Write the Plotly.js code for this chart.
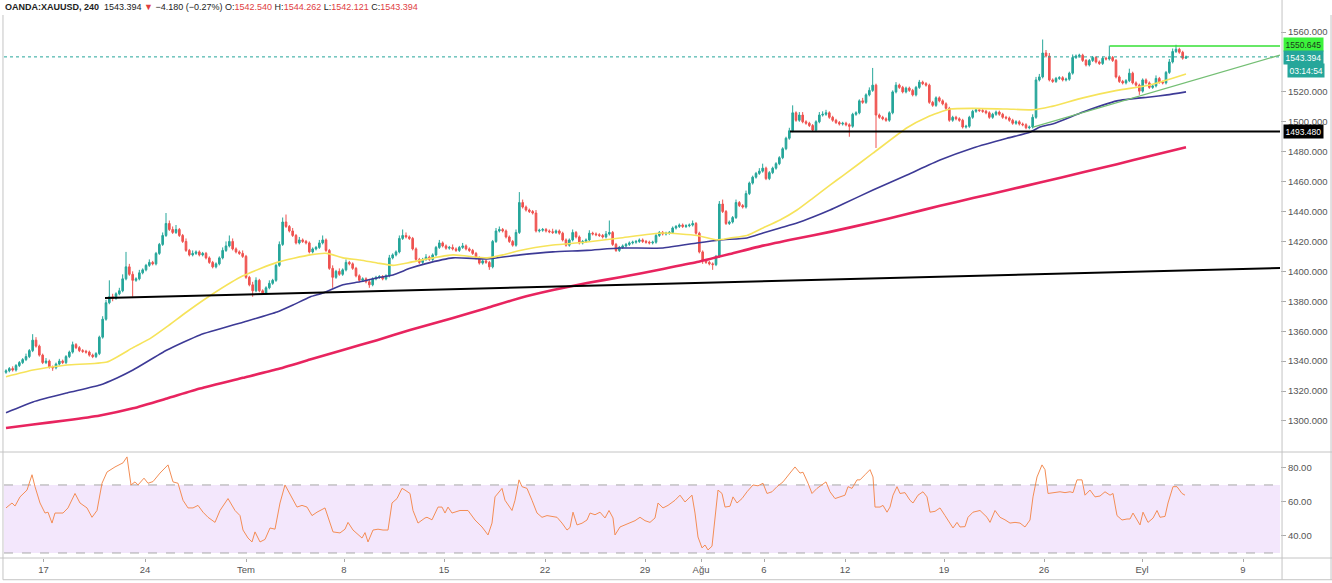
<!DOCTYPE html>
<html>
<head>
<meta charset="utf-8">
<script src="https://cdn.plot.ly/plotly-3.0.1.min.js"></script>
<style>html,body{margin:0;padding:0;background:#fff;}#chart{width:1332px;height:583px;}</style>
</head>
<body>
<div id="chart"></div>
<script>
// 4h candles, index 0..354 (OANDA:XAUUSD, 240)
const closes = [
1333.5,1335,1334,1337,1339,1341,1343,1347,1354,1350,
1344,1339,1340,1336,1335.5,1338,1340,1339,1343,1346,
1351,1349,1347,1346.5,1346,1344,1343,1345,1356,1368,
1379,1383,1382,1385,1387,1395,1403,1398,1394,1395,
1399,1401,1404,1406,1405,1412,1418,1424,1432,1428,
1426,1428,1424,1420,1414,1411,1412,1413,1411,1412,
1409,1406,1403,1405,1409,1414,1417,1420,1415,1413,
1412,1410,1396,1391,1387,1394,1387,1385.5,1389,1392,
1394,1404,1418,1433,1430,1427,1424,1419,1421,1420,
1419,1413,1415,1416,1419,1421,1414,1402,1396,1400,
1398,1401,1406,1405,1402,1397,1394,1395,1393,1391,
1395,1396,1396.5,1395,1397,1409,1411,1413,1422,1424,
1423,1422,1415,1408,1406,1408,1409.5,1408,1411,1416,
1419,1417,1415.5,1416,1415,1414,1416,1417,1415,1414,
1412,1409,1405.5,1407,1406,1403,1420,1427,1428,1427,
1423,1420,1417.5,1426,1446,1443,1441,1440,1439,1427,
1427.5,1428,1427,1426.5,1426,1427,1425.5,1421,1417.5,1421,
1426,1423,1419,1420,1421,1425.5,1425,1424.5,1424,1423,
1425,1426,1418,1414,1416,1417,1418,1419,1419.5,1420,
1421,1420,1419.5,1419,1419.5,1424,1426,1425,1425.5,1426,
1429,1430,1431,1430,1430.5,1431,1432,1425.5,1413,1407,
1406,1405,1404.5,1410,1445,1440,1432,1433,1436,1446,
1444,1443,1452,1459,1463,1465.5,1467,1469,1462,1466,
1469,1472,1476,1482,1489,1494,1506,1501,1504.5,1500,
1499,1497.5,1494.5,1500,1504.5,1505,1506,1503,1501,1499.5,
1498.5,1499,1498,1497,1505,1506,1514,1513,1518,1521,
1524.5,1504.5,1503,1502,1501,1506,1520,1524.5,1523,1520,
1522.5,1521,1518,1523,1526.5,1525.5,1524.5,1513,1511,1516,
1514,1512,1509,1501,1503,1502,1501,1496.5,1497,1503,
1507,1508,1507.5,1507,1506,1503,1505,1506.5,1505,1503,
1502.5,1501,1499,1500,1498.5,1498,1496,1496.5,1503,1528,
1530,1546,1544,1528,1527,1529,1529.5,1528,1528.5,1532.5,
1543,1544,1544.5,1541,1538,1541,1543,1540,1539,1542.5,
1542,1543,1541,1530,1527,1526,1527.5,1532.5,1526,1524.5,
1520.5,1528,1526,1523,1524,1529,1526.5,1526,1533,1540,
1547,1548.5,1546.5,1542.54,1543.394
];
const firstOpen = 1332.5;
// wick lengths above the body / below the body (price units)
const wickUp = [
1,1,1.5,1,1,1,2,1,4,2, 1,1,2,1,1,1,1.5,1,1,1, 2,1,1,1,1,1,1,1,1,2, 2,11,2,1,2,3,10,2,2,1,
2,1,1,2,1,1,1,2,7,2, 2,3,1,1,2,1,2,1,1,1, 1,1,1,1,1,2,3,4,2,1, 1,2,1,1,2,2,1,1,1,2,
1,1,2,3,5,1,2,1,2,1, 1,1,1,1,2,3,1,1,2,1, 2,1,2,1,1,1,1,1,1,2, 1,1,1,1,1,2,1,1,2,4,
2,1,1,1,1,1,2,1,1,1, 2,1,1,1,2,1,1,2,1,1, 1,1,1,1,1,1,1,2,2,1, 1,1,1,2,7,2,1,1,1,2,
1,1,1,1,2,1,1,1,1,1, 2,1,1,1,1,2,1,1,1,1, 2,8,1,1,1,1,1,1,1,1, 1,1,1,1,1,1,1,1,1,1,
1,1,1,1,1,1,2,1,1,1, 1,1,1,1,2,3,1,1,1,2, 1,1,2,1,1,1,2,3,1,1, 1,1,1,1,1,2,5,1,2,2,
1,1,1,1,2,2,2,1,1,1, 1,1,1,1,1,1,1,2,1,2, 11.5,1,1,1,1,1,1,2,1,1, 1,1,1,1,1.5,1,1,1,1,1,
1,1,1,1,1,1,1,1,1,1, 1,1,1,1,1,1,1,1,1,1, 1,1,1,1,1,1,1,1,2,2, 2,9,2,2,1,1,1,1,1,1,
2,1,1,1,1,1,1,1,1,1, 1,8,1,1,1,1,1,3,1,1, 1,1,1,1,1,2,1,1,1,2, 2,3,1,1,0.868
];
const wickDn = [
1,1,1,1,1,1,1,1,1,1, 1,1,1,1,2,1,1,1,1,1, 1,1,1,1,1,1,1,1,1,1, 1,1,2,1,1,1,1,1,11,1,
1,1,1,1,1,1,1,1,1,1, 1,1,1,1,1,1,1,1,1,1, 1,1,1,1,1,1,1,1,1,1, 1,1,1,1,4,1,1,1,1,1,
1,1,1,1,1,1,1,1,1,1, 1,1,1,1,1,1,1,1,7,1, 1,1,1,1,1,1,1,1,1,2, 1,1,1,1,1,1,1,1,1,1,
1,1,1,1,1,1,1,1,1,1, 1,1,1,1,1,1,1,1,1,1, 1,1,1,1,1,2,1,1,1,1, 1,1,1,1,1,1,1,1,1,1,
1,1,1,1,1,1,1,1,1,1, 1,1,1,1,1,1,1,1,1,1, 1,1,1,1,1,1,1,1,1,1, 1,1,1,1,1,1,1,1,1,1,
1,1,1,1,1,1,1,1,1,2, 1,1,3.5,1,1,1,1,1,1,1, 1,1,1,1,1,1,1,1,1,1, 1,1,1,1,1,1,1,1,1,1,
1,1,1,1,1,1,1,1,1,1, 1,1,1,7,1,1,1,1,1,1, 1,22,1,1,1,1,1,1,1,1, 1,1,1,1,1,1,1,1,1,1,
1,1,1,1,1,1,1,1,1,1, 1,1,1,1,1,1,1,1,1,1, 1,1,1,1,1,1,1,1,1,1, 1,1,1,1,1,1,1,1,1,1,
1,1,1,1,1,1,1,1,1,1, 1,1,1,1,1,1,1,1,1,1, 2.5,1,1,1,1,1,1,1,1,1, 1,1,1,1,0.419
];

// moving averages read at candle indices
const ma50Idx = [0,8.1,18.3,30.3,38.1,43.2,48.3,54.3,62.1,71.1,81.3,91.2,96.3,101.1,106.2,111.3,116.1,121.2,125.7,134.1,144.3,149.1,154.2,164.1,174.3,184.2,197.1,207.3,213.3,217.2,222.3,227.1,232.2,237.3,242.1,247.2,251.1,260.1,270.3,276.3,283.2,290.1,300.3,308.1,313.2,323.1,333.3,343.2,354];
const ma50Val = [1329.5,1334,1337.4,1339.4,1349,1355,1363,1373,1385,1397,1406,1411,1412,1409,1407.6,1405.6,1404,1406,1408,1411,1409,1411,1414,1417.6,1419.6,1422.3,1425.6,1424,1421,1422.3,1424,1429,1434.3,1441,1449,1457.7,1464,1479,1496,1503,1508.5,1509,1508.5,1508,1510,1516,1521,1524.6,1532];
const ma100Idx = [0,8.1,18.3,28.2,33.3,38.1,48.3,58.2,71.1,81.3,86.1,91.2,95.1,101.1,106.2,111.3,116.1,121.2,125.7,134.1,144.3,154.2,164.1,174.3,184.2,197.1,207.3,214.2,222.3,227.1,232.2,237.3,242.1,247.2,251.1,260.1,270.3,280.2,290.1,300.3,307.2,310.2,314.7,323.1,333.3,343.2,348.3,354];
const ma100Val = [1305.5,1312.7,1318.7,1324,1328.7,1334,1347.4,1357.5,1366,1372.8,1377.5,1382.9,1385.5,1391,1393,1395.6,1397.6,1402,1405,1409,1408.3,1411,1413,1414,1415.6,1415.6,1419,1421,1422.3,1425.6,1429,1432.3,1436.3,1441,1445,1454.4,1464.4,1474.4,1482.5,1489,1493,1496.5,1499,1506.5,1514,1516.6,1518,1520];
const ma200Idx = [0,8.1,18.3,28.2,38.1,48.3,58.2,71.1,81.3,91.2,101.1,111.3,121.2,134.1,144.3,154.2,164.1,174.3,184.2,197.1,207.3,217.2,227.1,237.3,247.2,260.1,270.3,280.2,290.1,300.3,310.2,323.1,333.3,343.2,354];
const ma200Val = [1295.3,1297.6,1300.4,1303.6,1308.4,1315,1321.6,1328.8,1334.5,1341,1347.4,1354,1360.8,1368.8,1375.5,1382.2,1387.5,1392.2,1396,1401.6,1406.2,1411.6,1417.2,1422,1426.4,1432.8,1438.4,1443.8,1449,1454.2,1459.4,1466.2,1471.6,1477.2,1483];

// RSI read at candle indices
const rsiIdx = [0,1.8,2.7,4.2,6.3,7.8,8.7,10.2,11.7,12.6,13.8,14.7,17.1,18.6,20.7,22.2,24.3,25.8,27.3,28.8,30.3,32.7,35.1,36.3,37.5,38.7,39.6,41.4,42.6,44.1,46.2,48.6,50.1,51.6,53.1,54.6,56.1,57.6,59.1,60.6,62.7,64.2,66.6,68.7,70.2,71.1,72.6,73.8,74.7,76.2,77.7,79.2,80.7,82.2,83.7,85.8,87.3,88.8,90.3,91.8,93.3,95.7,97.2,98.1,100.2,101.7,102.6,104.1,106.8,107.7,108.6,110.1,111.6,113.1,114.6,115.8,117.3,118.8,119.7,121.2,122.1,123.6,125.7,126.3,127.8,129.6,130.8,131.7,132.6,133.8,136.2,138.6,140.7,142.8,144.6,145.8,146.7,148.8,149.7,151.8,152.7,153.9,154.8,156.3,157.8,159.3,160.8,162.3,163.8,165.3,166.8,168.3,169.2,170.1,171.3,172.8,174.3,175.2,176.7,178.2,179.7,180.9,182.1,182.7,184.2,185.7,187.2,188.7,190.2,191.7,193.2,194.7,195.6,197.1,198.6,200.7,202.2,203.7,205.8,206.7,207.6,208.8,209.7,210.6,211.8,212.7,213.6,214.8,215.7,217.2,218.1,219.3,220.8,222.3,224.1,225.6,227.1,228.3,229.8,231.3,233.1,235.2,236.7,238.2,239.1,240.6,241.8,243.3,244.8,246,247.2,248.7,250.2,251.7,252.6,253.8,255.3,256.2,257.7,259.2,260.1,260.7,262.2,263.1,264.3,265.2,266.1,267.3,268.2,269.7,271.2,272.1,273.6,275.1,276.3,277.2,278.7,280.2,281.7,283.2,284.1,285.3,286.2,287.7,288.6,290.1,292.2,294.3,295.2,296.7,298.2,299.7,301.2,302.7,304.2,305.7,307.2,308.1,309.3,310.8,311.7,312.6,314.7,316.2,317.7,319.2,320.1,321.3,322.8,323.7,325.2,326.7,328.2,329.7,331.2,332.1,333.3,334.8,336.3,337.2,338.1,339.3,340.2,341.1,342.6,344.1,345.3,346.2,347.7,348.6,350.1,351.3,352.8,353.7];
const rsiVal = [56.5,59.4,57.6,63,67,76,69,59.4,53.5,54,47.6,53.5,53.5,56.5,65,59.4,56.5,51,55,71,77.6,80.6,83,86.5,70,71.8,70,74,71,72,77,81.8,71.8,71,61,56.5,56.5,58,54,51,48,55,62,55,52,43.5,38.8,36.5,42.4,36.5,38,44.7,44,59.4,70,62,57,58,57,52,54,56.5,48,42.4,41.8,44,48,43.5,38.8,42,36.5,43.5,44,43.5,43.5,59.4,62,68,67,65,55,47.6,50.6,51,49.5,57,57,53.5,57,53.5,55,55,49.4,45.3,40.6,47.6,63,68,61,55,61,73,69,68,61,53.5,51,52,51.5,51,47.6,43.5,45,54,46.5,47.5,49.4,53.5,52.5,54,50.6,55,50.6,40.6,45.3,46.5,48,49,51,49,48,50.6,59.4,56.5,58,61,64,60,64,53.5,39.4,33,34.7,31.8,34,49.4,67,65,57,57.5,63,59.4,62,66,70,69.5,71,65,66,69,71.8,77,80.6,77,77.5,71,65,68,70,71.8,66,62,63,64,69,68,73,73,76,79,74.7,57,57,58,54,57,64,69,65,65.5,61,59.4,64,66,63,54,54.5,56.5,52,47.6,44.7,48,45.3,45.5,51,54,55,51,48,55,51,49.5,47.6,48,47.6,45.3,49.4,63,74.7,81.8,79,65,65.5,66,65.5,66,65.5,73,73,64,67,63,63.5,66,64,65,52,49.4,50,50,53.5,49.5,46.5,54,48,50.5,55,51,51.5,59.4,69,69,65,64];

const xTickVals = [11.25,41.7,72.0,101.4,131.4,161.7,191.7,208.5,227.4,251.7,281.4,311.4,340.8,371.1];
const xTickText = ['17','24','Tem','8','15','22','29','Ağu','6','12','19','26','Eyl','9'];
// 1540.000 sits under the price labels in the reference, so it is not shown
const priceTicks = [1300,1320,1340,1360,1380,1400,1420,1440,1460,1480,1500,1520,1560];
const rsiTicks = [40,60,80];

const lastPrice = 1543.394;
const resistance = 1550.645;
const support = 1493.480;
const countdown = '03:14:54';

const idx = closes.map((c, i) => i);
const opens = closes.map((c, i) => i === 0 ? firstOpen : closes[i - 1]);
const highs = closes.map((c, i) => Math.max(opens[i], c) + wickUp[i]);
const lows = closes.map((c, i) => Math.min(opens[i], c) - wickDn[i]);

const UP = '#26a69a', DN = '#ef5350';
const traces = [
  {type:'scatter', mode:'lines', x:ma200Idx, y:ma200Val, line:{color:'#e8245f', width:2.6, shape:'spline', smoothing:0.5}, hoverinfo:'skip'},
  {type:'scatter', mode:'lines', x:ma100Idx, y:ma100Val, line:{color:'#3d3a96', width:1.6, shape:'spline', smoothing:0.5}, hoverinfo:'skip'},
  {type:'scatter', mode:'lines', x:ma50Idx, y:ma50Val, line:{color:'#f6e35a', width:1.6, shape:'spline', smoothing:0.5}, hoverinfo:'skip'},
  {type:'candlestick', x:idx, open:opens, high:highs, low:lows, close:closes,
   increasing:{line:{color:UP, width:1}, fillcolor:UP},
   decreasing:{line:{color:DN, width:1}, fillcolor:DN},
   whiskerwidth:0, hoverinfo:'skip', xaxis:'x', yaxis:'y'},
  {type:'scatter', mode:'lines', x:rsiIdx, y:rsiVal, xaxis:'x', yaxis:'y2', line:{color:'#f38d55', width:1}, hoverinfo:'skip'}
];

const xEnd = 382.2;
const gray = '#c4c4c4';
const shapes = [
  {type:'rect', xref:'paper', yref:'y2', x0:0, x1:1, y0:30, y1:70, fillcolor:'#f3e7fc', line:{width:0}, layer:'below'},
  {type:'line', xref:'paper', yref:'y2', x0:0, x1:1, y0:70, y1:70, line:{color:'#a8a8a8', width:1, dash:'dash'}, layer:'below'},
  {type:'line', xref:'paper', yref:'y2', x0:0, x1:1, y0:30, y1:30, line:{color:'#a8a8a8', width:1, dash:'dash'}, layer:'below'},
  {type:'line', xref:'paper', yref:'y', x0:0, x1:1, y0:lastPrice, y1:lastPrice, line:{color:'#26a69a', width:1, dash:'dot'}},
  {type:'line', xref:'x', yref:'y', x0:29.7, y0:1382.2, x1:xEnd, y1:1402.2, line:{color:'#000', width:2}},
  {type:'line', xref:'x', yref:'y', x0:235.2, y0:support, x1:xEnd, y1:support, line:{color:'#000', width:2}},
  {type:'line', xref:'x', yref:'y', x0:308.1, y0:1496.5, x1:xEnd, y1:1544.6, line:{color:'#74bf74', width:1.3}},
  {type:'line', xref:'x', yref:'y', x0:331.2, y0:resistance, x1:xEnd, y1:resistance, line:{color:'#35e035', width:1.6}},
  {type:'line', xref:'paper', yref:'paper', x0:-0.0031, x1:1.0408, y0:0.1952, y1:0.1952, line:{color:gray, width:1}},
  {type:'line', xref:'paper', yref:'paper', x0:-0.0031, x1:1.0408, y0:0, y1:0, line:{color:gray, width:1}},
  {type:'line', xref:'paper', yref:'paper', x0:1.0016, x1:1.0016, y0:-0.04, y1:1.03, line:{color:gray, width:1}},
  {type:'line', xref:'paper', yref:'paper', x0:-0.0008, x1:-0.0008, y0:-0.04, y1:1.0, line:{color:gray, width:1}},
  {type:'line', xref:'paper', yref:'paper', x0:-0.0008, x1:1.0408, y0:-0.04, y1:-0.04, line:{color:gray, width:1}},
  {type:'line', xref:'paper', yref:'paper', x0:1.0400, x1:1.0400, y0:-0.04, y1:1.0, line:{color:gray, width:1}}
];

const RED = '#e0403f';
const header = '<b>OANDA:XAUUSD, 240</b>  1543.394 <span style="color:' + RED + '">▼</span> −4.180 (−0.27%) ' +
  'O:<span style="color:' + RED + '">1542.540</span> H:<span style="color:' + RED + '">1544.262</span> ' +
  'L:<span style="color:' + RED + '">1542.121</span> C:<span style="color:' + RED + '">1543.394</span>';

const lblX = 1.0024;
const annotations = [
  {xref:'paper', yref:'paper', x:-0.0008, y:1.0147, xanchor:'left', yanchor:'middle', showarrow:false, text:header, font:{size:9, color:'#222'}},
  {xref:'paper', yref:'y', x:lblX, y:1551.7, xanchor:'left', yanchor:'middle', showarrow:false, text:resistance.toFixed(3), bgcolor:'#3cf23c', borderpad:1.5, font:{size:8.5, color:'#1b3a1b'}},
  {xref:'paper', yref:'y', x:lblX, y:1543.1, xanchor:'left', yanchor:'middle', showarrow:false, text:lastPrice.toFixed(3), bgcolor:'#26a69a', borderpad:1.5, font:{size:8.5, color:'#fff'}},
  {xref:'paper', yref:'y', x:1.0055, y:1534.5, xanchor:'left', yanchor:'middle', showarrow:false, text:countdown, bgcolor:'#26a69a', borderpad:1.5, font:{size:8.5, color:'#fff'}},
  {xref:'paper', yref:'y', x:lblX, y:support, xanchor:'left', yanchor:'middle', showarrow:false, text:support.toFixed(3), bgcolor:'#000', borderpad:1.5, font:{size:8.5, color:'#fff'}}
];

const layout = {
  width:1332, height:583,
  margin:{l:4, r:52, t:15, b:25},
  paper_bgcolor:'#fff', plot_bgcolor:'#fff',
  showlegend:false,
  font:{family:'"Liberation Sans", Arial, sans-serif', size:9.5, color:'#555'},
  xaxis:{range:[-0.6, xEnd], anchor:'y2', tickmode:'array', tickvals:xTickVals, ticktext:xTickText,
         ticks:'outside', ticklen:3, tickcolor:'#aaa', showgrid:false, zeroline:false, showline:false,
         rangeslider:{visible:false}, fixedrange:true, tickfont:{size:9.5, color:'#555'}},
  yaxis:{domain:[0.1971, 1], range:[1279.9, 1571.4], side:'right', anchor:'x', tickmode:'array', tickvals:priceTicks,
         tickformat:'.3f', ticks:'outside', ticklen:5, tickcolor:'#aaa', showgrid:false, zeroline:false, showline:false,
         tickfont:{size:9.5, color:'#555'}},
  yaxis2:{domain:[0, 0.1915], range:[27.06, 88.2], side:'right', anchor:'x', tickmode:'array', tickvals:rsiTicks,
         tickformat:'.2f', ticks:'outside', ticklen:5, tickcolor:'#aaa', showgrid:false, zeroline:false, showline:false,
         tickfont:{size:9.5, color:'#555'}},
  shapes:shapes,
  annotations:annotations
};

Plotly.newPlot('chart', traces, layout, {staticPlot:true, displayModeBar:false});
</script>
</body>
</html>
